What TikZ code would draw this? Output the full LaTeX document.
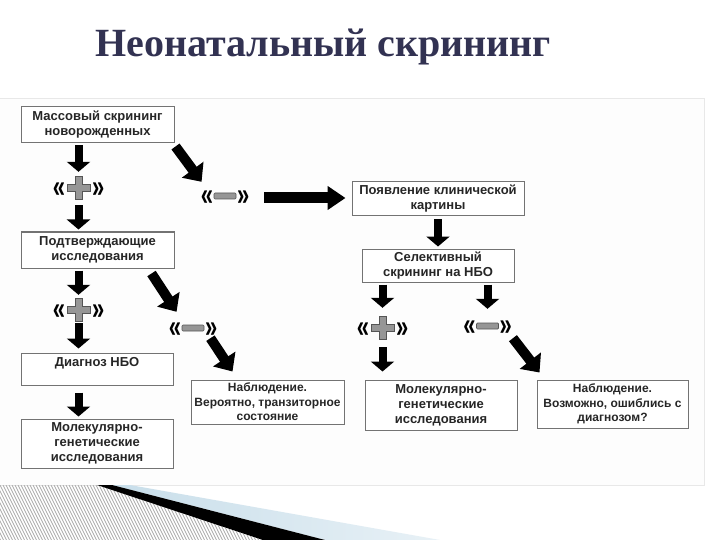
\documentclass[tikz,border=0pt]{standalone}
\usepackage{fontspec}
\setmainfont{Liberation Sans}
\newfontfamily\titlefont{Liberation Serif}
\usetikzlibrary{arrows.meta,calc}
\definecolor{titlecol}{RGB}{50,50,82}
\definecolor{boxline}{RGB}{115,115,115}
\definecolor{boxtext}{RGB}{38,38,38}
\definecolor{signgray}{RGB}{150,150,150}
\definecolor{signline}{RGB}{85,85,85}
\definecolor{panelline}{RGB}{232,232,232}
\definecolor{panelfill}{RGB}{253,253,253}
\definecolor{hatchcol}{RGB}{170,170,170}
\definecolor{blueA}{RGB}{200,222,234}
\definecolor{blueB}{RGB}{232,241,246}
\newcommand{\gl}{\scalebox{1}[1.45]{«}}
\newcommand{\gr}{\scalebox{1}[1.45]{»}}
\begin{document}
\begin{tikzpicture}[x=1pt,y=-1pt,
  box/.style={draw=boxline, line width=1pt, fill=white, align=center,
    font=\bfseries\fontsize{13}{15}\selectfont, text=boxtext, inner sep=0pt},
  smallbox/.style={box, font=\bfseries\fontsize{12}{14.5}\selectfont},
  sign/.style={inner sep=0pt, minimum height=24pt, text height=19pt, text depth=0pt,
    font=\bfseries\fontsize{22}{22}\selectfont, text=black},
  varrow/.style={line width=8pt, -{Triangle[length=10pt,width=23pt]}},
  darrow/.style={line width=10pt, -{Triangle[length=15pt,width=26pt]}},
  harrow/.style={line width=11pt, -{Triangle[length=18pt,width=23pt]}},
  hatch/.style={draw=hatchcol, line width=0.7pt},
  pluscross/.pic={\draw[draw=signline, line width=0.7pt, fill=signgray]
    (-3.5,-11.5) -- (3.5,-11.5) -- (3.5,-3.5) -- (11.5,-3.5) -- (11.5,3.5) -- (3.5,3.5)
    -- (3.5,11.5) -- (-3.5,11.5) -- (-3.5,3.5) -- (-11.5,3.5) -- (-11.5,-3.5) -- (-3.5,-3.5) -- cycle;},
  minusbar/.pic={\draw[draw=signline, line width=0.7pt, fill=signgray, rounded corners=1pt]
    (-11,-3) rectangle (11,3);}
]
\useasboundingbox (0,0) rectangle (720,540);
\fill[white] (0,0) rectangle (720,540);
% panel
\draw[draw=panelline, fill=panelfill, line width=1pt] (-2,99) -- (704,99) -- (704,485) -- (-2,485);

% title
\node[anchor=base west, inner sep=0pt, text=titlecol,
  font=\titlefont\bfseries\fontsize{40}{40}\selectfont] (title) at (95,57) {Неонатальный скрининг};

% boxes
\node[box, minimum width=153pt, minimum height=36pt] (b1) at (97.5,125) {Массовый скрининг\\новорожденных};
\node[box, minimum width=153pt, minimum height=36pt] (b2) at (97.5,250) {Подтверждающие\\исследования};
\node[box, minimum width=152pt, minimum height=32pt] (b3) at (97,369) {Диагноз НБО\\~};
\node[box, minimum width=152pt, minimum height=49pt] (b4) at (97,443.5) {Молекулярно-\\генетические\\исследования};
\node[smallbox, minimum width=153pt, minimum height=44pt] (b5) at (267.5,402) {Наблюдение.\\Вероятно, транзиторное\\состояние};
\node[box, minimum width=172pt, minimum height=34pt] (b6) at (438,199) {Появление клинической\\картины};
\node[box, minimum width=152pt, minimum height=33pt] (b7) at (438,265.5) {Селективный\\скрининг на НБО};
\node[box, minimum width=152pt, minimum height=50pt] (b8) at (441,405) {Молекулярно-\\генетические\\исследования};
\node[smallbox, minimum width=151pt, minimum height=48pt] (b9) at (612.5,404) {Наблюдение.\\Возможно, ошиблись с\\диагнозом?};

% signs
\node[sign] (p1) at (78.5,188) {\gl\hspace{27pt}\gr};
\pic at (p1.center) {pluscross};
\node[sign] (m1) at (225,196) {\gl\hspace{24pt}\gr};
\pic at (m1.center) {minusbar};
\node[sign] (p2) at (78.5,310) {\gl\hspace{27pt}\gr};
\pic at (p2.center) {pluscross};
\node[sign] (m2) at (193,328) {\gl\hspace{24pt}\gr};
\pic at (m2.center) {minusbar};
\node[sign] (p3) at (382.5,328) {\gl\hspace{27pt}\gr};
\pic at (p3.center) {pluscross};
\node[sign] (m3) at (487.5,326) {\gl\hspace{24pt}\gr};
\pic at (m3.center) {minusbar};

% arrows
\draw[varrow, shorten <=2pt, shorten >=4pt] (p1 |- b1.south) -- (p1.north);
\draw[varrow, shorten <=5pt, shorten >=2pt] (p1.south) -- (p1 |- b2.north);
\draw[darrow] ([shift={(1,3)}]b1.south east) -- ([shift={(1,-2)}]m1.north west);
\draw[harrow] ([shift={(15,2)}]m1.east) -- ([shift={(-6,-1)}]b6.west);
\draw[varrow, shorten <=2pt, shorten >=3pt] (p2 |- b2.south) -- (p2.north);
\draw[varrow, shorten <=1pt, shorten >=4pt] (p2.south) -- (p2 |- b3.north);
\draw[darrow] ([shift={(-23,5)}]b2.south east) -- ([shift={(8,-4)}]m2.north west);
\draw[darrow] ([shift={(-7,-2)}]m2.south east) -- ([shift={(42,-8)}]b5.north west);
\draw[varrow, shorten <=7pt, shorten >=2pt] (b3.south -| p2) -- (b4.north -| p2);
\draw[varrow, shorten <=3pt, shorten >=2pt] (b6.south) -- (b7.north);
\draw[varrow, shorten <=2pt, shorten >=8pt] (p3 |- b7.south) -- (p3.north);
\draw[varrow, shorten <=2pt, shorten >=5pt] (m3 |- b7.south) -- (m3.north);
\draw[varrow, shorten <=7pt, shorten >=8pt] (p3.south) -- (p3 |- b8.north);
\draw[darrow] ([shift={(1,0)}]m3.south east) -- ([shift={(3,-7)}]b9.north west);

% bottom decoration
\begin{scope}
\clip (0,485) -- (97,485) -- (263,540) -- (0,540) -- cycle;
\foreach \i in {-30,-27,...,270} \draw[hatch] (\i,485) -- (\i+27.5,540);
\end{scope}
\shade[left color=blueA, right color=blueB] (112,485) -- (130,485) -- (440,540) -- (325,540) -- cycle;
\fill[black] (97,485) -- (112,485) -- (325,540) -- (263,540) -- cycle;
\end{tikzpicture}
\end{document}
